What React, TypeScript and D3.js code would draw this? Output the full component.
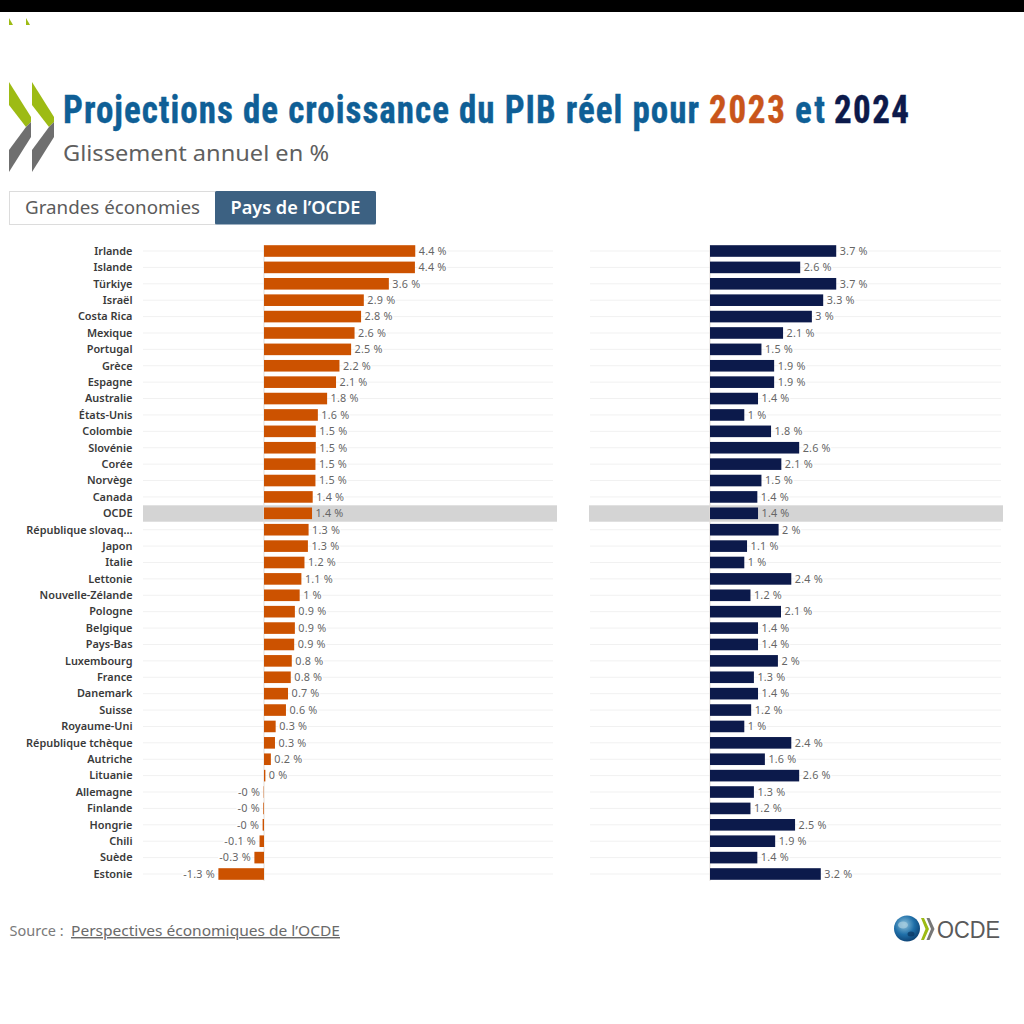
import React from "react";
import * as d3 from "d3";

const countries = ["Irlande","Islande","Türkiye","Israël","Costa Rica","Mexique","Portugal","Grèce","Espagne","Australie","États-Unis","Colombie","Slovénie","Corée","Norvège","Canada","OCDE","République slovaq...","Japon","Italie","Lettonie","Nouvelle-Zélande","Pologne","Belgique","Pays-Bas","Luxembourg","France","Danemark","Suisse","Royaume-Uni","République tchèque","Autriche","Lituanie","Allemagne","Finlande","Hongrie","Chili","Suède","Estonie"];
const growth2023 = [4.41,4.4,3.64,2.91,2.83,2.64,2.54,2.2,2.1,1.84,1.57,1.51,1.51,1.5,1.5,1.42,1.4,1.3,1.28,1.18,1.09,1.04,0.9,0.9,0.88,0.81,0.78,0.7,0.64,0.34,0.32,0.2,0.04,-0.01,-0.02,-0.04,-0.13,-0.28,-1.33];
const growth2024 = [3.68,2.63,3.68,3.3,2.97,2.13,1.5,1.87,1.87,1.4,1.0,1.78,2.6,2.08,1.5,1.38,1.4,2.0,1.08,1.0,2.37,1.18,2.07,1.4,1.4,1.98,1.28,1.4,1.2,1.0,2.37,1.6,2.6,1.28,1.18,2.48,1.9,1.38,3.23];
const highlighted = "OCDE";
const tabs = ["Grandes économies", "Pays de l’OCDE"];

const ORANGE = "#cc5200";
const NAVY = "#0c1a4b";
const BLUE = "#0f5f96";
const SANS = "'Noto Sans','Open Sans',sans-serif";
const NARROW = "'Liberation Sans Narrow','Roboto Condensed','Liberation Sans',sans-serif";

const fmt = (v: number) => v.toFixed(1).replace(/\.0$/, "") + " %";

const y = d3.scalePoint<string>().domain(countries).range([251, 874]);
const BAR_H = 11.6;

function Panel({ values, color, zeroPx, gridFrom, gridTo, bandFrom, bandTo }: any) {
  const x = d3.scaleLinear().domain([0, 1]).range([zeroPx, zeroPx + 34.3]);
  return (
    <g>
      {countries.filter((c) => c !== highlighted).map((c) => (
        <line key={c} x1={gridFrom} x2={gridTo} y1={y(c)} y2={y(c)} stroke="#f1f1f1" strokeWidth={1} />
      ))}
      <rect x={bandFrom} width={bandTo - bandFrom} y={y(highlighted)! - 8} height={16.4} fill="#d4d4d4" />
      <line x1={x(0)} x2={x(0)} y1={245} y2={881} stroke="#e2ddd8" strokeWidth={1} />
      {values.map((v: number, i: number) => {
        const c = countries[i];
        const x0 = Math.min(x(0), x(v));
        const w = Math.abs(x(v) - x(0));
        return <rect key={c} x={x0} y={y(c)! - BAR_H / 2} width={w} height={BAR_H} fill={color} />;
      })}
      {values.map((v: number, i: number) => {
        const c = countries[i];
        const neg = v < 0;
        return (
          <text key={c} x={x(v) + (neg ? -3.5 : 3.5)} y={y(c)! + 3.8} textAnchor={neg ? "end" : "start"}
            fontFamily={SANS} fontSize={10.8} fill="#666" letterSpacing={0.2}
            stroke={c === highlighted ? "none" : "#fff"} strokeWidth={3} paintOrder="stroke">
            {fmt(v)}
          </text>
        );
      })}
    </g>
  );
}

function Chevrons() {
  const chevron = (dx: number) => (
    <g key={dx} transform={`translate(${dx},0)`}>
      <polygon points="9,82 31,117 31,122 26,127 9,105" fill="#9dbb14" />
      <polygon points="31,122 31,137 9,172 9,150 26,127" fill="#6f6f6f" />
    </g>
  );
  return <g>{[0, 23].map(chevron)}</g>;
}

function Title({ x, w, fill, children }: any) {
  return (
    <text transform={`translate(${x},122.5) scale(1,1.1)`} fill={fill} stroke={fill} strokeWidth={0.35}
      textLength={w} lengthAdjust="spacing" fontFamily={NARROW} fontWeight={700} fontSize={35}>
      {children}
    </text>
  );
}

export default function App() {
  return (
    <div style={{ position: "fixed", left: 0, top: 0, width: 1024, height: 1024, background: "#fff" }}>
      <svg width={1024} height={1024} viewBox="0 0 1024 1024" style={{ display: "block" }}>
        <defs>
          <radialGradient id="globe" cx="0.4" cy="0.35" r="0.7">
            <stop offset="0" stopColor="#8fc3dc" />
            <stop offset="0.55" stopColor="#1f6fa8" />
            <stop offset="1" stopColor="#0c3f70" />
          </radialGradient>
        </defs>
        <rect width={1024} height={1024} fill="#fff" />
        <rect width={1024} height={12} fill="#000" />
        <polygon points="9,18 13,25 9,25" fill="#9dbb14" />
        <polygon points="26,18 30,25 26,25" fill="#9dbb14" />

        <Chevrons />
        <Title x={63} w={636} fill={BLUE}>Projections de croissance du PIB réel pour</Title>
        <Title x={709} w={76} fill="#c9551a">2023</Title>
        <Title x={795} w={30} fill={BLUE}>et</Title>
        <Title x={834} w={75} fill={NAVY}>2024</Title>
        <text x={63} y={161} fontFamily={SANS} fontSize={22} fill="#5f5f5f" textLength={266} lengthAdjust="spacingAndGlyphs">Glissement annuel en %</text>

        <rect x={9.5} y={191.5} width={206} height={33} fill="#fff" stroke="#dcdcdc" />
        <rect x={215} y={191} width={161} height={33.5} rx={1.5} fill="#3c6182" />
        <text x={25} y={213.5} fontFamily={SANS} fontSize={17.5} fill="#5b5b5b" textLength={175} lengthAdjust="spacingAndGlyphs">{tabs[0]}</text>
        <text x={230.5} y={213.5} fontFamily={SANS} fontSize={17} fontWeight={600} fill="#fff" textLength={130} lengthAdjust="spacingAndGlyphs">{tabs[1]}</text>

        <Panel values={growth2023} color={ORANGE} zeroPx={264} gridFrom={143} gridTo={553} bandFrom={143} bandTo={557} />
        <Panel values={growth2024} color={NAVY} zeroPx={710} gridFrom={590} gridTo={1001} bandFrom={589} bandTo={1003} />

        {countries.map((c) => (
          <text key={c} x={132.5} y={y(c)! + 3.8} textAnchor="end" fontFamily={SANS} fontSize={10.9} fontWeight={600} fill="#3a3a3a">{c}</text>
        ))}

        <text x={9.5} y={936} fontFamily={SANS} fontSize={14.5} fill="#7a7a7a">Source : </text>
        <text x={71} y={936} fontFamily={SANS} fontSize={14.5} fill="#6a6a6a" textDecoration="underline" textLength={269} lengthAdjust="spacingAndGlyphs">Perspectives économiques de l’OCDE</text>

        <circle cx={907} cy={928.5} r={13} fill="url(#globe)" />
        <ellipse cx={903} cy={925} rx={5} ry={3.5} fill="#a9cfe0" opacity={0.7} />
        <ellipse cx={911} cy={934} rx={3.5} ry={2.5} fill="#0a3560" opacity={0.7} />
        <polygon points="921,918 924,918 929,929 924,940 921,940 925.5,929" fill="#9dbb14" />
        <polygon points="926.5,918 929.5,918 934.5,929 929.5,940 926.5,940 931,929" fill="#777" />
        <text x={937} y={937.5} fontFamily="'Liberation Sans',sans-serif" fontSize={23} fill="#5a5a5a" textLength={63} lengthAdjust="spacingAndGlyphs">OCDE</text>
      </svg>
    </div>
  );
}
